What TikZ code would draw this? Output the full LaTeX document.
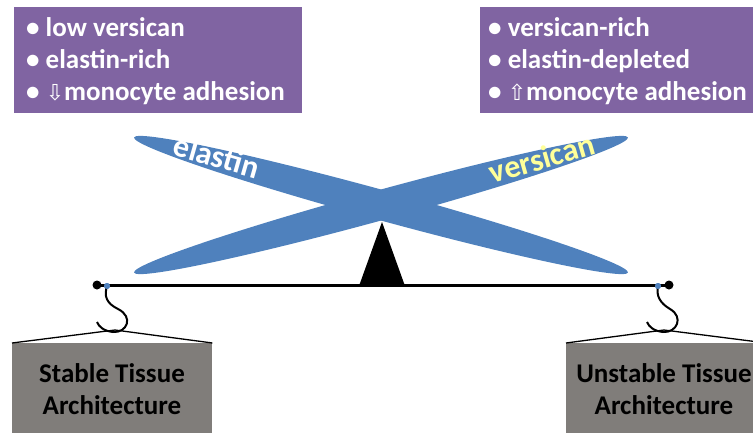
\documentclass[tikz,border=0pt]{standalone}
\usepackage{fontspec}
\setmainfont{Carlito}
\newfontfamily\arrowfont{DejaVu Sans}
\usetikzlibrary{shapes.geometric}
\definecolor{boxpurple}{HTML}{8064A2}
\definecolor{barblue}{HTML}{4F81BD}
\definecolor{boxgray}{RGB}{128,125,122}
\definecolor{paleyellow}{HTML}{FFFF99}
\begin{document}
\begin{tikzpicture}[x=1pt,y=-1pt,
  bigfont/.style={font=\fontsize{27}{32}\selectfont\bfseries},
  purplebox/.style={fill=boxpurple,draw=none},
  bullettext/.style={bigfont,text=white,anchor=base west,inner sep=0pt},
  graybox/.style={fill=boxgray,draw=none,rectangle,minimum width=200pt,minimum height=100pt,anchor=north west,inner sep=0pt},
  tissuetext/.style={bigfont,text=black,anchor=base,inner sep=0pt},
  bar/.style={ellipse,fill=barblue,draw=none,minimum width=512pt,minimum height=30pt,inner sep=0pt},
  bartext/.style={font=\fontsize{32}{36}\selectfont\bfseries,inner sep=0pt},
  enddot/.style={circle,fill=black,minimum size=9pt,inner sep=0pt},
  pindot/.style={circle,fill=barblue,minimum size=6pt,inner sep=0pt},
  hookline/.style={line width=2pt,black},
  hangerline/.style={line width=1.3pt,black}]
\useasboundingbox (0,0) rectangle (753,432);

% top boxes
\fill[purplebox] (14,7) rectangle (302,113);
\fill[purplebox] (480,7) rectangle (760,113);
\node[bullettext] (l1) at (26,36) {• low versican};
\node[bullettext] (l2) at (26,68) {• elastin-rich};
\node[bullettext] (l3) at (26,100) {• {\arrowfont\mdseries\fontsize{22}{24}\selectfont ⇩}monocyte adhesion};
\node[bullettext] (r1) at (488,36) {• versican-rich};
\node[bullettext] (r2) at (488,68) {• elastin-depleted};
\node[bullettext] (r3) at (488,100) {• {\arrowfont\mdseries\fontsize{22}{24}\selectfont ⇧}monocyte adhesion};

% crossed bars
\node[bar,rotate=15.3] (versicanbar) at (381,205) {};
\node[bar,rotate=-15.3] (elastinbar) at (381,205) {};
\node[bartext,text=white,rotate=-16] (elastinlbl) at (217,156) {elastin};
\node[bartext,text=paleyellow,rotate=16] (versicanlbl) at (542,158) {versican};

% fulcrum
\fill[black] (382,222) -- (405,286) -- (359,286) -- cycle;

% beam
\node[enddot] (ldot) at (97,285) {};
\node[enddot] (rdot) at (669,285) {};
\draw[line width=3pt] (ldot.center) -- (rdot.center);

% left hanger
\node[graybox] (lbox) at (12,343) {};
\coordinate (lapex) at (115,330);
\draw[hangerline] (lbox.north west) -- (lapex) -- (lbox.north east);
\node[pindot] (lpin) at (107,286) {};
\draw[hookline] (lpin.center) .. controls (104,296) and (106,303) .. (118,309)
  .. controls (134,317) and (127,333) .. (113,332)
  .. controls (104,331) and (99,327) .. (97,322);
\fill[barblue] (lpin) circle (3pt);
\node[tissuetext] (ltxt1) at (112,382) {Stable Tissue};
\node[tissuetext] (ltxt2) at (112,414) {Architecture};

% right hanger
\node[graybox] (rbox) at (566,343) {};
\coordinate (rapex) at (664,330);
\draw[hangerline] (rbox.north west) -- (rapex) -- (rbox.north east);
\node[pindot] (rpin) at (658,286) {};
\draw[hookline] (rpin.center) .. controls (656,296) and (660,303) .. (670,309)
  .. controls (684,317) and (677,333) .. (663,332)
  .. controls (654,331) and (649,327) .. (647,322);
\fill[barblue] (rpin) circle (3pt);
\node[tissuetext] (rtxt1) at (664,382) {Unstable Tissue};
\node[tissuetext] (rtxt2) at (664,414) {Architecture};
\end{tikzpicture}
\end{document}
